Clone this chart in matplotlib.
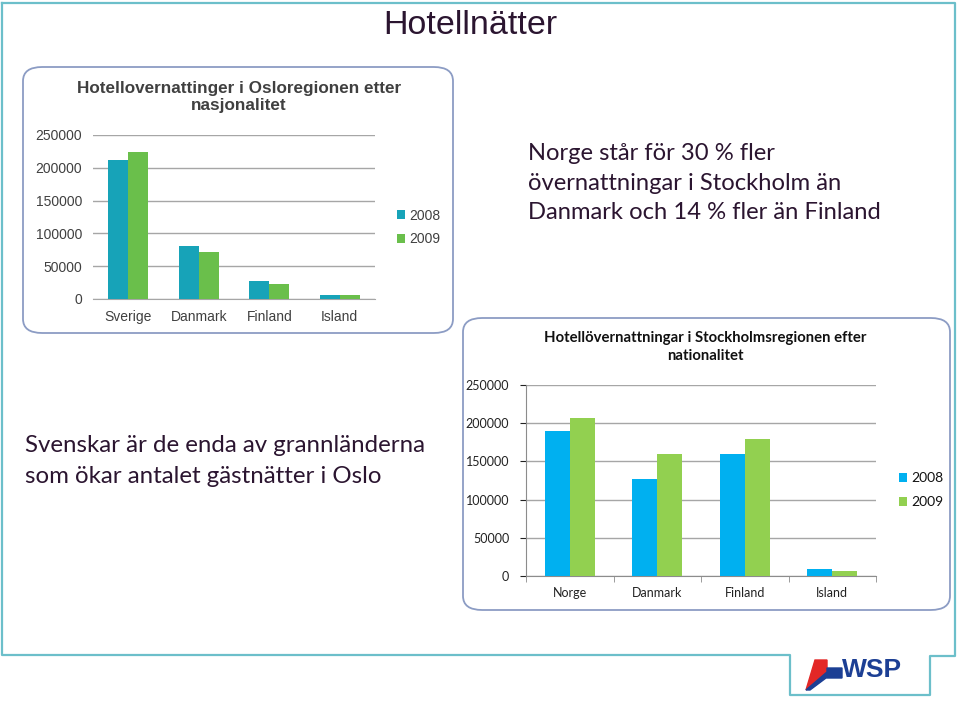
import matplotlib.pyplot as plt
import numpy as np
from matplotlib.patches import FancyBboxPatch, Polygon
from matplotlib.lines import Line2D

# data
oslo_countries = ['Sverige', 'Danmark', 'Finland', 'Island']
oslo_2008 = [212500, 81000, 27700, 5500]
oslo_2009 = [224600, 72000, 23200, 6000]

sthlm_countries = ['Norge', 'Danmark', 'Finland', 'Island']
sthlm_2008 = [189800, 127000, 160100, 8700]
sthlm_2009 = [206400, 159300, 179300, 7000]

years = ['2008', '2009']
yticks = [0, 50000, 100000, 150000, 200000, 250000]

W, H = 960, 701
fig = plt.figure(figsize=(9.6, 7.01), dpi=100)
fig.patch.set_facecolor('white')


def fx(px):
    return px / W


def fy(py):
    return 1 - py / H


# slide frame with the little tab round the logo
frame_col = '#6cbfca'
fx_pts = [2, 2, 790, 790, 930, 930, 955, 955, 2]
fy_pts = [3, 655, 655, 695, 695, 656, 656, 3, 3]
fig.add_artist(Line2D([fx(v) for v in fx_pts], [fy(v) for v in fy_pts],
                      color=frame_col, lw=1.6, transform=fig.transFigure))

# main title
fig.text(fx(470), fy(25), 'Hotellnätter', ha='center', va='center',
         fontsize=24.5, color='#2b1530', family='Liberation Sans')

# rounded boxes round the two charts
box_col = '#8c9cc4'
for x0, y0, x1, y1 in [(23, 67, 453, 333), (463, 318, 950, 610)]:
    fig.add_artist(FancyBboxPatch((fx(x0), fy(y1)), fx(x1 - x0), (y1 - y0) / H,
                                  boxstyle='round,pad=0,rounding_size=0.02',
                                  transform=fig.transFigure, fill=False,
                                  edgecolor=box_col, lw=1.3))

# ---- Oslo chart
col_a = ['#17a3b8', '#6abf4b']
ax1 = fig.add_axes([fx(93), fy(299), fx(375 - 93), (299 - 135) / H])
x = np.arange(len(oslo_countries))
bw = 0.284
ax1.bar(x - bw / 2, oslo_2008, bw, color=col_a[0], label=years[0], zorder=3)
ax1.bar(x + bw / 2, oslo_2009, bw, color=col_a[1], label=years[1], zorder=3)
ax1.set_xlim(-0.5, 3.5)
ax1.set_ylim(0, 250000)
ax1.set_yticks(yticks)
ax1.set_yticklabels([str(v) for v in yticks])
ax1.set_xticks(x)
ax1.set_xticklabels(oslo_countries)
ax1.grid(axis='y', color='#a6a6a6', lw=1, zorder=0)
for s in ['top', 'right', 'left']:
    ax1.spines[s].set_visible(False)
ax1.spines['bottom'].set_color('#a6a6a6')
ax1.tick_params(length=0, labelsize=10, colors='#404040', pad=8)
for t in ax1.get_xticklabels() + ax1.get_yticklabels():
    t.set_family('Liberation Sans')
fig.text(fx(239), fy(97), 'Hotellovernattinger i Osloregionen etter\nnasjonalitet',
         ha='center', va='center', fontsize=12.3, fontweight='bold',
         color='#404040', family='Liberation Sans', linespacing=1.2)
ax1.legend(loc='upper left', bbox_to_anchor=(fx(384), fy(196)),
           bbox_transform=fig.transFigure, frameon=False,
           handlelength=0.6, handleheight=0.6, handletextpad=0.3,
           labelspacing=0.7, prop={'family': 'Liberation Sans', 'size': 10},
           labelcolor='#404040')

# ---- Stockholm chart
col_b = ['#00b0f0', '#92d050']
ax2 = fig.add_axes([fx(526), fy(576), fx(876 - 526), (576 - 385) / H])
x = np.arange(len(sthlm_countries))
bw = 0.286
ax2.bar(x - bw / 2, sthlm_2008, bw, color=col_b[0], label=years[0], zorder=3)
ax2.bar(x + bw / 2, sthlm_2009, bw, color=col_b[1], label=years[1], zorder=3)
ax2.set_xlim(-0.5, 3.5)
ax2.set_ylim(0, 250000)
ax2.set_yticks(yticks)
ax2.set_yticklabels([str(v) for v in yticks])
ax2.set_xticks(x)
ax2.set_xticklabels(sthlm_countries)
ax2.set_xticks(np.arange(-0.5, 4, 1), minor=True)
ax2.grid(axis='y', color='#a6a6a6', lw=1, zorder=0)
for s in ['top', 'right']:
    ax2.spines[s].set_visible(False)
ax2.spines['bottom'].set_color('#8c8c8c')
ax2.spines['left'].set_color('#8c8c8c')
ax2.tick_params(axis='x', which='major', length=0, pad=8)
ax2.tick_params(axis='x', which='minor', length=4, color='#8c8c8c')
ax2.tick_params(axis='y', length=4, color='#8c8c8c', pad=8)
ax2.tick_params(labelsize=9, colors='#222222')
for t in ax2.get_xticklabels() + ax2.get_yticklabels():
    t.set_family('Lato')
fig.text(fx(705), fy(347), 'Hotellövernattningar i Stockholmsregionen efter\nnationalitet',
         ha='center', va='center', fontsize=10.7, fontweight='bold',
         color='#111111', family='Lato', linespacing=1.35)
ax2.legend(loc='upper left', bbox_to_anchor=(fx(886), fy(460)),
           bbox_transform=fig.transFigure, frameon=False,
           handlelength=0.6, handleheight=0.6, handletextpad=0.3,
           labelspacing=0.85, prop={'family': 'Lato', 'size': 10},
           labelcolor='#111111')

# comments on the slide
fig.text(fx(528), fy(183), 'Norge står för 30 % fler\növernattningar i Stockholm än\n'
         'Danmark och 14 % fler än Finland', ha='left', va='center',
         fontsize=17.1, color='#2b1530', family='Lato', linespacing=1.5)
fig.text(fx(25), fy(461), 'Svenskar är de enda av grannländerna\nsom ökar antalet gästnätter i Oslo',
         ha='left', va='center', fontsize=17.3, color='#2b1530', family='Lato',
         linespacing=1.55)

# WSP logo, rough
red_pts = [(815, 660), (827, 660), (827, 672), (806, 690)]
blue_pts = [(827, 668), (842, 668), (842, 678), (826, 678), (810, 690), (806, 690), (827, 672)]
fig.add_artist(Polygon([(fx(a), fy(b)) for a, b in red_pts], closed=True,
                       color='#e32726', transform=fig.transFigure))
fig.add_artist(Polygon([(fx(a), fy(b)) for a, b in blue_pts], closed=True,
                       color='#1c3f94', transform=fig.transFigure))
fig.text(fx(842), fy(670), 'WSP', ha='left', va='center', fontsize=19,
         fontweight='bold', color='#1c3f94', family='Liberation Sans')

fig.savefig('out.png', dpi=100)
